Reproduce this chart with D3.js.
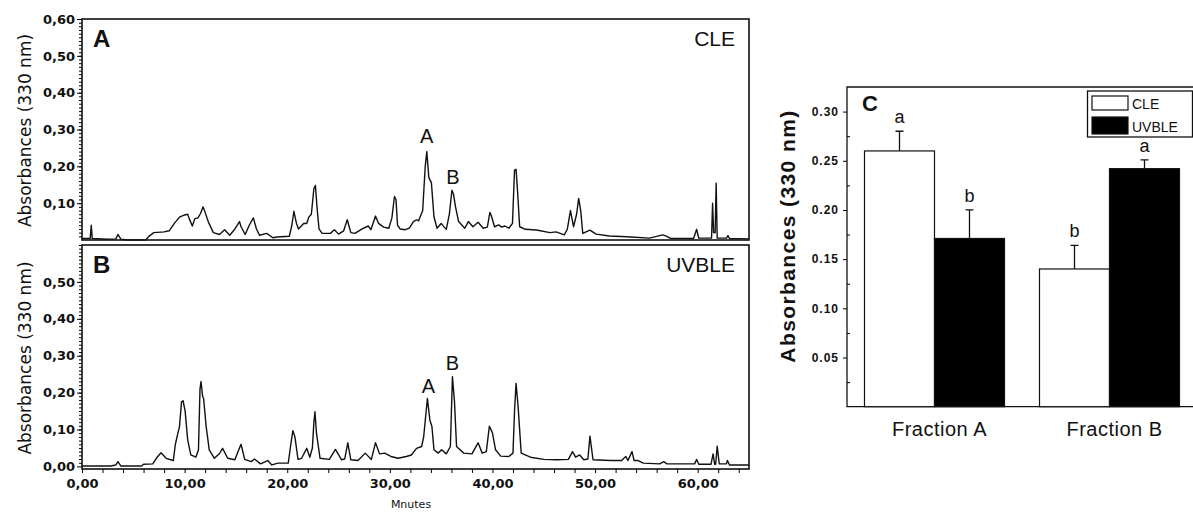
<!DOCTYPE html>
<html>
<head>
<meta charset="utf-8">
<script src="https://cdn.jsdelivr.net/npm/d3@7"></script>
<style>
	body { margin: 0; background: #fff; }
	svg { display: block; }
	text { fill: #111; }
</style>
</head>
<body>
<div id="chart-area"></div>
<script>

// chromatogram traces, [minutes, absorbance]
let cleTrace = [
	[0, 0.004], [0.8, 0.004], [0.9, 0.04], [1.0, 0.004], [2.5, 0.002], [3.3, 0.003], [3.5, 0.015], [3.8, 0.002],
	[4.5, 0.0], [6.2, 0.0], [6.6, 0.012], [7.0, 0.02], [8.0, 0.022], [8.5, 0.025], [9.0, 0.045], [9.5, 0.062],
	[10.0, 0.068], [10.3, 0.07], [10.45, 0.058], [10.75, 0.038], [11.0, 0.058], [11.3, 0.06], [11.55, 0.072],
	[11.8, 0.09], [12.0, 0.075], [12.3, 0.05], [12.8, 0.02], [13.4, 0.015], [13.9, 0.028], [14.4, 0.013],
	[14.9, 0.03], [15.35, 0.05], [15.5, 0.036], [15.9, 0.015], [16.3, 0.04], [16.7, 0.06], [17.0, 0.03],
	[17.3, 0.013], [18.0, 0.018], [18.6, 0.006], [19.0, 0.008], [20.2, 0.01], [20.45, 0.04], [20.65, 0.078],
	[20.9, 0.045], [21.1, 0.03], [21.6, 0.045], [21.9, 0.045], [22.1, 0.062], [22.35, 0.07], [22.6, 0.14],
	[22.75, 0.148], [22.9, 0.09], [23.1, 0.03], [23.4, 0.018], [24.2, 0.018], [24.6, 0.028], [25.0, 0.016],
	[25.5, 0.025], [25.85, 0.055], [26.2, 0.02], [26.6, 0.018], [27.3, 0.03], [27.9, 0.038], [28.15, 0.028],
	[28.6, 0.065], [28.9, 0.045], [29.4, 0.035], [29.9, 0.032], [30.2, 0.06], [30.45, 0.118], [30.6, 0.11],
	[30.75, 0.04], [31.0, 0.03], [31.5, 0.028], [31.9, 0.032], [32.3, 0.05], [32.6, 0.055], [32.8, 0.052],
	[33.2, 0.08], [33.45, 0.2], [33.6, 0.24], [33.8, 0.17], [34.05, 0.155], [34.3, 0.063], [34.6, 0.032],
	[35.0, 0.045], [35.3, 0.035], [35.5, 0.029], [35.8, 0.07], [36.05, 0.135], [36.2, 0.125], [36.4, 0.09],
	[36.7, 0.05], [37.3, 0.032], [37.65, 0.05], [38.1, 0.036], [38.6, 0.048], [39.1, 0.032], [39.5, 0.035],
	[39.75, 0.075], [39.9, 0.065], [40.2, 0.036], [40.6, 0.041], [40.9, 0.035], [41.2, 0.038], [41.6, 0.032],
	[41.95, 0.045], [42.15, 0.19], [42.3, 0.192], [42.45, 0.13], [42.65, 0.036], [43.2, 0.029], [44.3, 0.027],
	[45.6, 0.02], [46.2, 0.022], [47.0, 0.014], [47.3, 0.03], [47.6, 0.08], [47.9, 0.036], [48.2, 0.07],
	[48.4, 0.113], [48.6, 0.08], [48.8, 0.018], [49.5, 0.027], [50.1, 0.016], [51.4, 0.011], [53.1, 0.009],
	[55.3, 0.005], [56.6, 0.014], [57.0, 0.01], [57.4, 0.004], [59.6, 0.004], [59.9, 0.029], [60.1, 0.005],
	[61.35, 0.005], [61.45, 0.1], [61.55, 0.02], [61.7, 0.02], [61.8, 0.154], [61.9, 0.005], [62.8, 0.005],
	[62.95, 0.012], [63.1, 0.004], [65, 0.003]
];

let uvbleTrace = [
	[0, 0.001], [2.8, 0.001], [3.3, 0.004], [3.5, 0.013], [3.8, 0.001], [5.8, 0.001], [6.0, 0.006], [6.9, 0.007],
	[7.24, 0.022], [7.7, 0.037], [8.2, 0.022], [8.9, 0.016], [9.1, 0.06], [9.3, 0.085], [9.5, 0.108],
	[9.7, 0.175], [9.85, 0.178], [10.05, 0.15], [10.3, 0.072], [10.6, 0.031], [11.1, 0.025], [11.35, 0.045],
	[11.5, 0.21], [11.6, 0.23], [11.75, 0.19], [11.85, 0.184], [12.1, 0.108], [12.4, 0.045], [12.9, 0.022],
	[13.4, 0.035], [13.7, 0.049], [14.2, 0.022], [14.9, 0.018], [15.2, 0.04], [15.5, 0.06], [15.85, 0.019],
	[16.5, 0.013], [16.8, 0.02], [17.4, 0.007], [18.1, 0.016], [18.5, 0.004], [19.1, 0.009], [20.1, 0.009],
	[20.35, 0.06], [20.55, 0.097], [20.75, 0.08], [21.05, 0.019], [21.4, 0.022], [21.9, 0.049], [22.2, 0.025],
	[22.45, 0.05], [22.6, 0.12], [22.7, 0.148], [22.85, 0.09], [23.2, 0.022], [24.1, 0.019], [24.7, 0.046],
	[25.3, 0.018], [25.6, 0.02], [25.9, 0.064], [26.2, 0.018], [26.9, 0.016], [27.6, 0.036], [28.2, 0.019],
	[28.6, 0.064], [29.0, 0.034], [29.5, 0.036], [30.1, 0.027], [30.8, 0.022], [31.6, 0.027], [32.1, 0.031],
	[32.6, 0.049], [33.1, 0.054], [33.3, 0.081], [33.66, 0.184], [33.9, 0.126], [34.1, 0.108], [34.3, 0.045],
	[34.7, 0.036], [35.05, 0.045], [35.5, 0.034], [35.9, 0.054], [36.1, 0.243], [36.3, 0.175], [36.5, 0.054],
	[37.2, 0.036], [38.0, 0.034], [38.6, 0.064], [39.0, 0.036], [39.4, 0.04], [39.7, 0.109], [40.0, 0.091],
	[40.3, 0.045], [40.8, 0.028], [41.6, 0.027], [42.0, 0.036], [42.15, 0.15], [42.3, 0.225], [42.5, 0.162],
	[42.8, 0.036], [43.7, 0.025], [45.0, 0.019], [46.3, 0.018], [47.4, 0.019], [47.8, 0.04], [48.1, 0.025],
	[48.5, 0.031], [48.9, 0.018], [49.3, 0.02], [49.5, 0.082], [49.8, 0.018], [51.5, 0.016], [52.6, 0.016],
	[52.8, 0.022], [53.0, 0.027], [53.2, 0.016], [53.6, 0.04], [53.8, 0.016], [54.2, 0.016], [54.7, 0.009],
	[56.3, 0.007], [56.7, 0.013], [57.0, 0.007], [59.7, 0.007], [59.9, 0.019], [60.1, 0.006], [61.3, 0.006],
	[61.5, 0.034], [61.65, 0.006], [61.75, 0.006], [61.9, 0.055], [62.1, 0.007], [62.8, 0.007], [62.9, 0.016],
	[63.1, 0.004], [65, 0.004]
];

// peak labels [minutes, absorbance of label baseline]
let clePeaks   = [["A", 33.6, 0.263], ["B", 36.15, 0.153]];
let uvblePeaks = [["A", 33.75, 0.198], ["B", 36.1, 0.262]];

let timeTicks = [0, 10, 20, 30, 40, 50, 60];

// bar chart (panel C)
let fractions   = ["Fraction A", "Fraction B"];
let extracts    = ["CLE", "UVBLE"];
let meanCLE     = [0.26, 0.14];
let meanUVBLE   = [0.171, 0.242];
let errCLE      = [0.02, 0.024];
let errUVBLE    = [0.029, 0.009];
let lettersCLE  = ["a", "b"];
let lettersUVBLE = ["b", "a"];
let barTicks    = [0.05, 0.10, 0.15, 0.20, 0.25, 0.30];

let width  = 1193,
	height = 512;

let svg = d3.select("#chart-area")
	.append("svg")
	.attr("width", width)
	.attr("height", height);

let comma = v => d3.format(".2f")(v).replace(".", ",");
let verdana = "DejaVu Sans, Verdana, sans-serif";
let arial = "Liberation Sans, Arial, sans-serif";

// shared time scale
let x = d3.scaleLinear()
	.domain([0, 65])
	.range([82, 749]);

function chromatogram(trace, yTop, yBottom, yMin, labels, name, letter, peaks, tickLabels) {
	let y = d3.scaleLinear()
		.domain([yMin, 0.6])
		.range([yBottom, yTop]);

	let g = svg.append("g");

	// minor ticks
	g.append("g")
		.attr("transform", "translate(82,0)")
		.call(d3.axisLeft(y).tickValues(d3.range(1, 61).map(d => d / 100)).tickSize(3).tickFormat(""))
		.call(a => a.select(".domain").remove());

	let yAxis = d3.axisLeft(y)
		.tickValues(labels)
		.tickSize(5)
		.tickPadding(2)
		.tickFormat(comma);

	g.append("g")
		.attr("class", "y-axis")
		.attr("transform", "translate(82,0)")
		.call(yAxis)
		.call(a => a.select(".domain").remove())
		.selectAll("text")
		.style("font-family", verdana)
		.style("font-size", "13px")
		.style("font-weight", "bold")
		.attr("fill", "#222");

	// frame
	g.append("rect")
		.attr("x", 82)
		.attr("y", yTop)
		.attr("width", 749 - 82)
		.attr("height", yBottom - yTop)
		.attr("fill", "none")
		.attr("stroke", "#111")
		.attr("stroke-width", 1.6);

	let line = d3.line()
		.x(d => x(d[0]))
		.y(d => y(d[1]));

	g.append("path")
		.datum(trace)
		.attr("d", line)
		.attr("fill", "none")
		.attr("stroke", "#111")
		.attr("stroke-width", 1.4)
		.attr("stroke-linejoin", "round");

	g.selectAll(".peak")
		.data(peaks)
		.enter()
		.append("text")
		.text(d => d[0])
		.attr("x", d => x(d[1]))
		.attr("y", d => y(d[2]))
		.style("text-anchor", "middle")
		.style("font-family", arial)
		.style("font-size", "20px");

	g.append("text")
		.text(letter)
		.attr("x", 93)
		.attr("y", yTop + 28)
		.style("font-family", arial)
		.style("font-weight", "bold")
		.style("font-size", "24px");

	g.append("text")
		.text(name)
		.attr("x", 735)
		.attr("y", yTop + 27)
		.style("text-anchor", "end")
		.style("font-family", arial)
		.style("font-size", "21px");

	g.append("text")
		.text("Absorbances (330 nm)")
		.attr("transform", "translate(31," + ((yTop + yBottom) / 2 + 1) + ") rotate(-90)")
		.style("text-anchor", "middle")
		.style("font-family", verdana)
		.style("font-size", "17px");

	return y;
}

chromatogram(cleTrace, 19, 240, 0, [0.1, 0.2, 0.3, 0.4, 0.5, 0.6], "CLE", "A", clePeaks);
chromatogram(uvbleTrace, 245, 469, -0.007, [0, 0.1, 0.2, 0.3, 0.4, 0.5], "UVBLE", "B", uvblePeaks);

// time axis
let xAxis = d3.axisBottom(x)
	.tickValues(d3.range(0, 65, 2))
	.tickSize(4)
	.tickFormat(d => timeTicks.includes(d) ? comma(d) : "");

svg.append("g")
	.attr("class", "x-axis")
	.attr("transform", "translate(0,469)")
	.call(xAxis)
	.call(a => a.select(".domain").remove())
	.selectAll("text")
	.attr("dy", "0.95em")
	.style("font-family", verdana)
	.style("font-size", "13px")
	.style("font-weight", "bold")
	.attr("fill", "#222");

svg.append("text")
	.text("Mnutes")
	.attr("x", 411)
	.attr("y", 508)
	.style("text-anchor", "middle")
	.style("font-family", verdana)
	.style("font-size", "11px");

// ---- panel C ----
let barY = d3.scaleLinear()
	.domain([0, 0.325])
	.range([406.7, 87]);

let fractionScale = d3.scaleBand()
	.domain(fractions)
	.range([847, 1197])
	.paddingInner(0.2)
	.paddingOuter(0.1);

let extractScale = d3.scaleBand()
	.domain(extracts)
	.range([0, fractionScale.bandwidth()]);

let barData = [];
fractions.forEach((f, i) => {
	barData.push({fraction: f, extract: "CLE", mean: meanCLE[i], err: errCLE[i], letter: lettersCLE[i]});
	barData.push({fraction: f, extract: "UVBLE", mean: meanUVBLE[i], err: errUVBLE[i], letter: lettersUVBLE[i]});
});

let fill = {CLE: "#fff", UVBLE: "#000"};

// frame (top + left + bottom)
svg.append("path")
	.attr("d", "M" + 1193 + "," + barY(0.325) + "H847V" + barY(0) + "H1193")
	.attr("fill", "none")
	.attr("stroke", "#111")
	.attr("stroke-width", 1.3);

let barX = d => fractionScale(d.fraction) + extractScale(d.extract);

svg.selectAll(".bar")
	.data(barData)
	.enter()
	.append("rect")
	.attr("x", barX)
	.attr("y", d => barY(d.mean))
	.attr("width", extractScale.bandwidth())
	.attr("height", d => barY(0) - barY(d.mean))
	.attr("fill", d => fill[d.extract])
	.attr("stroke", "#111")
	.attr("stroke-width", 1.2);

// error bars
svg.selectAll(".err")
	.data(barData)
	.enter()
	.append("path")
	.attr("d", d => {
		let cx = barX(d) + extractScale.bandwidth() / 2;
		return "M" + cx + "," + barY(d.mean) + "V" + barY(d.mean + d.err) +
			"M" + (cx - 4) + "," + barY(d.mean + d.err) + "H" + (cx + 4);
	})
	.attr("stroke", "#111")
	.attr("stroke-width", 1.3)
	.attr("fill", "none");

svg.selectAll(".letter")
	.data(barData)
	.enter()
	.append("text")
	.text(d => d.letter)
	.attr("x", d => barX(d) + extractScale.bandwidth() / 2)
	.attr("y", d => barY(d.mean + d.err) - 8)
	.style("text-anchor", "middle")
	.style("font-family", arial)
	.style("font-size", "18px");

// y axis, majors out, minors in
svg.append("g")
	.attr("transform", "translate(847,0)")
	.call(d3.axisRight(barY).tickValues([0.025, 0.075, 0.125, 0.175, 0.225, 0.275]).tickSize(3).tickFormat(""))
	.call(a => a.select(".domain").remove());

svg.append("g")
	.attr("transform", "translate(847,0)")
	.call(d3.axisLeft(barY).tickValues(barTicks).tickSize(4).tickPadding(4).tickFormat(d3.format(".2f")))
	.call(a => a.select(".domain").remove())
	.selectAll("text")
	.style("font-family", arial)
	.style("font-size", "12px")
	.style("font-weight", "bold")
	.style("letter-spacing", "1px")
	.attr("fill", "#222");

// x labels
svg.selectAll(".frac")
	.data(fractions)
	.enter()
	.append("text")
	.text(d => d)
	.attr("x", d => fractionScale(d) + fractionScale.bandwidth() / 2 + 5)
	.attr("y", 436)
	.style("text-anchor", "middle")
	.style("font-family", arial)
	.style("font-size", "20px")
	.style("letter-spacing", "0.5px");

svg.append("text")
	.text("Absorbances (330 nm)")
	.attr("transform", "translate(795,236) rotate(-90)")
	.style("text-anchor", "middle")
	.style("font-family", arial)
	.style("font-weight", "bold")
	.style("font-size", "21px")
	.style("letter-spacing", "1.4px");

svg.append("text")
	.text("C")
	.attr("x", 862)
	.attr("y", 111)
	.style("font-family", arial)
	.style("font-weight", "bold")
	.style("font-size", "22px");

// legend
let legend = svg.append("g");

legend.append("rect")
	.attr("x", 1087.5)
	.attr("y", 91)
	.attr("width", 105)
	.attr("height", 46)
	.attr("fill", "#fff")
	.attr("stroke", "#111")
	.attr("stroke-width", 1.3);

legend.selectAll(".swatch")
	.data(extracts)
	.enter()
	.append("rect")
	.attr("x", 1092)
	.attr("y", (d, i) => 96 + i * 21)
	.attr("width", 36)
	.attr("height", (d, i) => i === 0 ? 14 : 17)
	.attr("fill", d => fill[d])
	.attr("stroke", "#111")
	.attr("stroke-width", 1.2);

legend.selectAll(".ltext")
	.data(extracts)
	.enter()
	.append("text")
	.text(d => d)
	.attr("x", 1132)
	.attr("y", (d, i) => 109 + i * 23)
	.style("font-family", arial)
	.style("font-size", "14px");

</script>
</body>
</html>
